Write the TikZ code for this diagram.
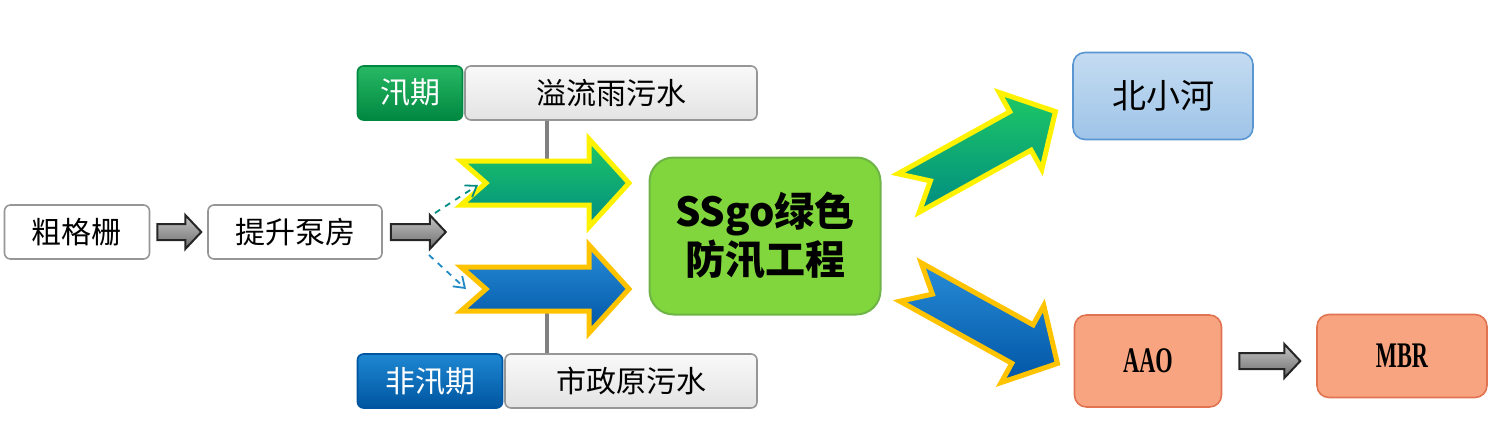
\documentclass[tikz,border=0pt]{standalone}
\usepackage{fontspec}
\setmainfont{Noto Sans CJK SC}
\newfontfamily\abcfont{Liberation Serif}
\usepackage{graphicx}
\usetikzlibrary{positioning, arrows.meta, calc}

\definecolor{edgegray}{RGB}{150,150,150}
\definecolor{tagdkgreen}{RGB}{0,135,65}
\definecolor{taggreen}{RGB}{40,185,100}
\definecolor{tagdkblue}{RGB}{0,85,160}
\definecolor{tagblue}{RGB}{30,135,210}
\definecolor{lime}{RGB}{128,214,60}
\definecolor{limeedge}{RGB}{110,180,70}
\definecolor{skyfill}{RGB}{158,196,232}
\definecolor{skyedge}{RGB}{90,150,210}
\definecolor{salmon}{RGB}{248,164,128}
\definecolor{salmonedge}{RGB}{225,115,80}
\definecolor{arrgreen}{RGB}{30,200,100}
\definecolor{arrteal}{RGB}{0,140,130}
\definecolor{arrblue}{RGB}{40,140,215}
\definecolor{arrdkblue}{RGB}{0,85,165}
\definecolor{gold}{RGB}{255,195,0}

\tikzset{
  whitebox/.style={draw=edgegray, fill=white, rounded corners=3pt, line width=0.8pt,
    minimum height=27pt, inner sep=0pt, font=\fontsize{15pt}{15pt}\selectfont},
  graybox/.style={whitebox, top color=gray!5, bottom color=gray!22},
  greentag/.style={whitebox, draw=tagdkgreen, top color=taggreen, bottom color=tagdkgreen, text=white},
  bluetag/.style={whitebox, draw=tagdkblue, top color=tagblue, bottom color=tagdkblue, text=white},
  ssgobox/.style={draw=limeedge, fill=lime, rounded corners=12pt, line width=1pt,
    minimum width=115.5pt, minimum height=78.5pt, align=center,
    font=\bfseries\fontsize{20pt}{24pt}\selectfont},
  riverbox/.style={draw=skyedge, top color=skyfill!60, bottom color=skyfill, rounded corners=6pt,
    line width=0.8pt, minimum width=90pt, minimum height=43.5pt, font=\fontsize{17pt}{17pt}\selectfont},
  salmonbox/.style={draw=salmonedge, fill=salmon, rounded corners=6pt, line width=0.8pt,
    font=\abcfont\bfseries\fontsize{18pt}{18pt}\selectfont},
  stem/.style={draw=gray, line width=2pt},
  dashlink/.style={dashed, line width=0.9pt, -{Straight Barb[length=5pt,width=7pt]}},
  pics/bigarrow/.style={code={
    \path[pic actions, line join=miter] (0,-22) -- (128,-22) -- (128,-44) -- (168,0)
      -- (128,44) -- (128,22) -- (0,22) -- (25,0) -- cycle;}},
  pics/grayarrow/.style={code={
    \draw[draw=black!85, top color=gray!45, bottom color=gray!85!black, line width=1pt]
      (0,-8) -- (#1-16,-8) -- (#1-16,-17) -- (#1,0) -- (#1-16,17) -- (#1-16,8) -- (0,8) -- cycle;}}
}

\begin{document}
\begin{tikzpicture}[x=0.5pt, y=-0.5pt]
  \useasboundingbox (0,0) rectangle (1489,440);

  % left chain
  \node[whitebox, minimum width=72.5pt] (cgs) at (77,232) {粗格栅};
  \node[whitebox, minimum width=87pt] (tsbf) at (295,232) {提升泵房};
  \path ($(cgs.east)+(7,0)$) pic {grayarrow=44};                 % grid -> pump
  \path ($(tsbf.east)+(8,0)$) pic {grayarrow=55};                % pump -> split

  % season tags
  \node[greentag, minimum width=52.5pt] (xq) at (410,93) {汛期};
  \node[graybox, minimum width=146pt] (ylys) at (611,93) {溢流雨污水};
  \node[bluetag, minimum width=72.5pt] (fxq) at (430,381) {非汛期};
  \node[graybox, minimum width=126pt] (szys) at (631,381) {市政原污水};

  % stems to the two flows
  \coordinate (stemtop) at (547,162);
  \coordinate (stembot) at (547,311);
  \draw[stem] (ylys.south -| stemtop) -- (stemtop);
  \draw[stem] (stembot) -- (szys.north -| stembot);

  % incoming flows
  \path (461,183) pic[draw=yellow, line width=2.5pt, top color=arrgreen, bottom color=arrteal] {bigarrow};
  \path (461,289) pic[draw=gold, line width=2.5pt, top color=arrblue, bottom color=arrdkblue] {bigarrow};
  \coordinate (upstart) at (435,213);
  \coordinate (upend) at (478,185);
  \coordinate (downstart) at (429,255);
  \coordinate (downend) at (466,289);
  \draw[dashlink, arrteal] (upstart) -- (upend);
  \draw[dashlink, arrblue!80!teal] (downstart) -- (downend);

  % centre
  \node[ssgobox] (ssgo) at (765,236) {SSgo绿色\\防汛工程};

  % outputs
  \node[riverbox] (bxh) at (1163,96) {北小河};
  \node[salmonbox, minimum width=73.5pt, minimum height=46pt] (aao) at (1148,361) {\scalebox{0.62}[1]{AAO}};
  \node[salmonbox, minimum width=85pt, minimum height=41.5pt] (mbr) at (1402,356) {\scalebox{0.62}[1]{MBR}};
  \path ($(aao.east)+(17,0)$) pic {grayarrow=61};                % AAO -> MBR

  \path ($(ssgo.east)+(27,-43)$) pic[rotate=29, draw=yellow, line width=2.5pt, top color=arrgreen, bottom color=arrteal] {bigarrow};
  \path ($(ssgo.east)+(29,46)$) pic[rotate=-29, draw=gold, line width=2.5pt, top color=arrblue, bottom color=arrdkblue] {bigarrow};
\end{tikzpicture}
\end{document}
